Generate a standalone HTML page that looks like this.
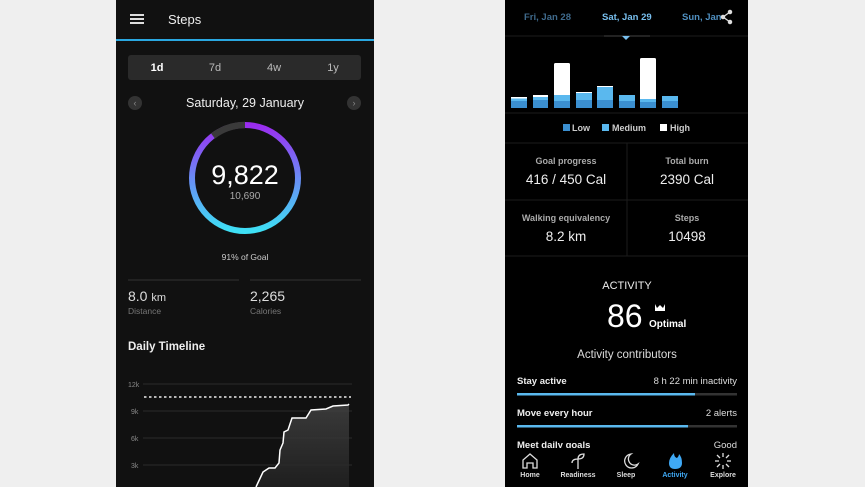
<!DOCTYPE html>
<html><head><style>
body{margin:0;width:865px;height:487px;background:#efefef;position:relative;overflow:hidden;font-family:"Liberation Sans",sans-serif}
.a{position:absolute;white-space:nowrap}
.lp{position:absolute;left:116px;top:0;width:258px;height:487px;background:#111;overflow:hidden}
.rp{position:absolute;left:505px;top:0;width:243px;height:487px;background:#000;overflow:hidden}
.c{transform:translateX(-50%)}
</style></head><body>
<div class="lp">
 <div class="a" style="left:14px;top:14px;width:14px;height:2px;background:#ddd;box-shadow:0 4px 0 #ddd,0 8px 0 #ddd"></div>
 <div class="a" style="left:52px;top:12px;color:#eee;font-size:13px">Steps</div>
 <div class="a" style="left:0;top:39px;width:258px;height:2px;background:#2aa7e0"></div>
 <div class="a" style="left:12px;top:55px;width:233px;height:25px;background:#2a2a2a;border-radius:3px"></div>
 <div class="a c" style="left:41px;top:62px;color:#fff;font-size:11px;font-weight:bold">1d</div>
 <div class="a c" style="left:99px;top:62px;color:#bbb;font-size:11px">7d</div>
 <div class="a c" style="left:158px;top:62px;color:#bbb;font-size:11px">4w</div>
 <div class="a c" style="left:217px;top:62px;color:#bbb;font-size:11px">1y</div>
 <div class="a" style="left:12px;top:96px;width:14px;height:14px;border-radius:50%;background:#333;color:#888;font-size:9px;text-align:center;line-height:14px">‹</div>
 <div class="a" style="left:231px;top:96px;width:14px;height:14px;border-radius:50%;background:#333;color:#888;font-size:9px;text-align:center;line-height:14px">›</div>
 <div class="a c" style="left:129px;top:96px;color:#eee;font-size:12.5px">Saturday, 29 January</div>
 <svg class="a" style="left:0;top:0" width="258" height="487">
  <defs><linearGradient id="g" x1="0" y1="0" x2="0" y2="1"><stop offset="0" stop-color="#9b2cf0"/><stop offset="0.5" stop-color="#6a8cf5"/><stop offset="1" stop-color="#3ee0f5"/></linearGradient>
  <linearGradient id="f" x1="0" y1="0" x2="0" y2="1"><stop offset="0" stop-color="#444"/><stop offset="1" stop-color="#222"/></linearGradient></defs>
  <circle cx="129" cy="178" r="53" fill="none" stroke="url(#g)" stroke-width="6"/>
  <path d="M129 125 A53 53 0 0 0 97 136" fill="none" stroke="#3a3a3a" stroke-width="6.5"/>
  <line x1="12" y1="280" x2="123" y2="280" stroke="#333"/>
  <line x1="134" y1="280" x2="245" y2="280" stroke="#333"/>
  <g stroke="#2a2a2a"><line x1="27" y1="384" x2="236" y2="384"/><line x1="27" y1="411" x2="236" y2="411"/><line x1="27" y1="438" x2="236" y2="438"/><line x1="27" y1="465" x2="236" y2="465"/></g>
  <line x1="28" y1="397" x2="235" y2="397" stroke="#eee" stroke-width="1.6" stroke-dasharray="2.5 2.5"/>
  <polygon fill="url(#f)" opacity="0.8" points="140,487 147,472 153,468 159,468 163,463 164,450 167,443 168,432 172,430 176,418 190,418 195,410 210,409 217,406 232,405 233,404 233,487"/>
  <polyline fill="none" stroke="#fff" stroke-width="1.5" points="140,487 147,472 153,468 159,468 163,463 164,450 167,443 168,432 172,430 176,418 190,418 195,410 210,409 217,406 232,405 233,404"/>
  <g fill="#888" font-size="7" font-family="Liberation Sans"><text x="12" y="387">12k</text><text x="15" y="414">9k</text><text x="15" y="441">6k</text><text x="15" y="468">3k</text></g>
 </svg>
 <div class="a c" style="left:129px;top:160px;color:#fff;font-size:27px">9,822</div>
 <div class="a c" style="left:129px;top:191px;color:#aaa;font-size:10px">10,690</div>
 <div class="a c" style="left:129px;top:252px;color:#ccc;font-size:8.5px">91% of Goal</div>
 <div class="a" style="left:12px;top:288px;color:#ddd;font-size:14px">8.0 <span style="font-size:11px">km</span></div>
 <div class="a" style="left:12px;top:306px;color:#777;font-size:8.5px">Distance</div>
 <div class="a" style="left:134px;top:288px;color:#ddd;font-size:14px">2,265</div>
 <div class="a" style="left:134px;top:306px;color:#777;font-size:8.5px">Calories</div>
 <div class="a" style="left:12px;top:341px;color:#eee;font-size:11.5px;font-weight:bold">Daily Timeline</div>
</div>

<div class="rp">
 <div class="a" style="left:19px;top:12px;color:#3f6a8c;font-size:9.5px;font-weight:bold">Fri, Jan 28</div>
 <div class="a" style="left:97px;top:12px;color:#78bfee;font-size:9.5px;font-weight:bold">Sat, Jan 29</div>
 <div class="a" style="left:177px;top:12px;color:#4f8fc0;font-size:9.5px;font-weight:bold">Sun, Jan</div>
 <svg class="a" style="left:0;top:0" width="243" height="487">
  <g stroke="#ddd" stroke-width="1.3" fill="#ddd"><line x1="218" y1="17" x2="225" y2="12"/><line x1="218" y1="17" x2="225" y2="22"/><circle cx="218" cy="17" r="1.6"/><circle cx="225" cy="12" r="1.6"/><circle cx="225" cy="22" r="1.6"/></g>
  <g stroke="#1c1c1c"><line x1="0" y1="36" x2="243" y2="36"/><line x1="0" y1="113" x2="243" y2="113"/><line x1="0" y1="143" x2="243" y2="143"/><line x1="0" y1="200" x2="243" y2="200"/><line x1="0" y1="256" x2="243" y2="256"/><line x1="122" y1="143" x2="122" y2="256"/></g>
  <line x1="99" y1="36" x2="145" y2="36" stroke="#444"/>
  <polygon points="117,36 125,36 121,40" fill="#78bfee"/>
  <g>
   <rect x="6" y="97" width="16" height="11" fill="#3b8fd0"/><rect x="6" y="97" width="16" height="4" fill="#5ab8ee"/><rect x="6" y="97" width="16" height="1.5" fill="#fff"/>
   <rect x="28" y="95" width="15" height="13" fill="#3b8fd0"/><rect x="28" y="95" width="15" height="5" fill="#5ab8ee"/><rect x="28" y="95" width="15" height="2" fill="#fff"/>
   <rect x="49" y="63" width="16" height="45" fill="#fff" rx="1.5"/><rect x="49" y="95" width="16" height="13" fill="#5ab8ee"/><rect x="49" y="101" width="16" height="7" fill="#3b8fd0"/>
   <rect x="71" y="92" width="16" height="16" fill="#5ab8ee"/><rect x="71" y="92" width="16" height="1" fill="#fff"/><rect x="71" y="100" width="16" height="8" fill="#3b8fd0"/>
   <rect x="92" y="86" width="16" height="22" fill="#5ab8ee"/><rect x="92" y="86" width="16" height="1" fill="#fff"/><rect x="92" y="100" width="16" height="8" fill="#3b8fd0"/>
   <rect x="114" y="95" width="16" height="13" fill="#5ab8ee"/><rect x="114" y="101" width="16" height="7" fill="#3b8fd0"/>
   <rect x="135" y="58" width="16" height="50" fill="#fff" rx="1.5"/><rect x="135" y="99" width="16" height="9" fill="#5ab8ee"/><rect x="135" y="102" width="16" height="6" fill="#3b8fd0"/>
   <rect x="157" y="96" width="16" height="12" fill="#5ab8ee"/><rect x="157" y="101" width="16" height="7" fill="#3b8fd0"/>
  </g>
  <rect x="58" y="124" width="7" height="7" fill="#3b8fd0"/><rect x="97" y="124" width="7" height="7" fill="#5ab8ee"/><rect x="155" y="124" width="7" height="7" fill="#fff"/>
  <rect x="12" y="393" width="220" height="2.5" fill="#333"/><rect x="12" y="393" width="178" height="2.5" fill="#5ab8ee"/>
  <rect x="12" y="425" width="220" height="2.5" fill="#333"/><rect x="12" y="425" width="171" height="2.5" fill="#5ab8ee"/>
  <path d="M150 304 l2 4 l3 -3 l3 3 l2 -4 v7 h-10z" fill="#fff"/>
 </svg>
 <div class="a" style="left:67px;top:123px;color:#ccc;font-size:9px;font-weight:bold">Low</div>
 <div class="a" style="left:107px;top:123px;color:#ccc;font-size:9px;font-weight:bold">Medium</div>
 <div class="a" style="left:165px;top:123px;color:#ccc;font-size:9px;font-weight:bold">High</div>
 <div class="a c" style="left:61px;top:156px;color:#aaa;font-size:9px;font-weight:bold">Goal progress</div>
 <div class="a c" style="left:61px;top:172px;color:#eee;font-size:13.5px">416 / 450 Cal</div>
 <div class="a c" style="left:182px;top:156px;color:#aaa;font-size:9px;font-weight:bold">Total burn</div>
 <div class="a c" style="left:182px;top:172px;color:#eee;font-size:13.5px">2390 Cal</div>
 <div class="a c" style="left:61px;top:213px;color:#aaa;font-size:9px;font-weight:bold">Walking equivalency</div>
 <div class="a c" style="left:61px;top:229px;color:#eee;font-size:13.5px">8.2 km</div>
 <div class="a c" style="left:182px;top:213px;color:#aaa;font-size:9px;font-weight:bold">Steps</div>
 <div class="a c" style="left:182px;top:229px;color:#eee;font-size:13.5px">10498</div>
 <div class="a c" style="left:122px;top:280px;color:#eee;font-size:11px">ACTIVITY</div>
 <div class="a" style="left:102px;top:298px;color:#fff;font-size:32px">86</div>
 <div class="a" style="left:144px;top:319px;color:#fff;font-size:10px;font-weight:bold">Optimal</div>
 <div class="a c" style="left:122px;top:349px;color:#ddd;font-size:11.5px">Activity contributors</div>
 <div class="a" style="left:12px;top:376px;color:#eee;font-size:9.5px;font-weight:bold">Stay active</div>
 <div class="a" style="right:11px;top:376px;color:#ddd;font-size:9.5px">8 h 22 min inactivity</div>
 <div class="a" style="left:12px;top:408px;color:#eee;font-size:9.5px;font-weight:bold">Move every hour</div>
 <div class="a" style="right:11px;top:408px;color:#ddd;font-size:9.5px">2 alerts</div>
 <div class="a" style="left:12px;top:440px;color:#eee;font-size:9.5px;font-weight:bold">Meet daily goals</div>
 <div class="a" style="right:11px;top:440px;color:#ddd;font-size:9.5px">Good</div>
 <div class="a" style="left:0;top:448px;width:243px;height:39px;background:#000"></div>
 <svg class="a" style="left:0;top:448px" width="243" height="25">
  <path d="M18 20 v-8 l7 -6 l7 6 v8 h-4 v-5 h-6 v5z" fill="none" stroke="#ddd" stroke-width="1.3"/>
  <path d="M73 21 v-10 q0 -5 6 -5 q0 5 -6 5 M73 11 q-6 0 -6 4" fill="none" stroke="#ddd" stroke-width="1.3"/>
  <path d="M126 6 a7 7 0 1 0 7 10 a6 6 0 0 1 -7 -10z" fill="none" stroke="#ddd" stroke-width="1.3"/>
  <path d="M170 21 q-6 0 -6 -6 q0 -5 5 -10 q0 4 3 5 q2 -2 2 -4 q3 3 3 9 q0 6 -7 6z" fill="#3fa9f5"/>
  <g stroke="#ddd" stroke-width="1.3"><line x1="218" y1="5" x2="218" y2="9"/><line x1="218" y1="17" x2="218" y2="21"/><line x1="210" y1="13" x2="214" y2="13"/><line x1="222" y1="13" x2="226" y2="13"/><line x1="212" y1="7" x2="215" y2="10"/><line x1="221" y1="16" x2="224" y2="19"/><line x1="224" y1="7" x2="221" y2="10"/><line x1="215" y1="16" x2="212" y2="19"/></g>
 </svg>
 <div class="a c" style="left:25px;top:472px;color:#ddd;font-size:7px;font-weight:bold">Home</div>
 <div class="a c" style="left:73px;top:472px;color:#ddd;font-size:7px;font-weight:bold">Readiness</div>
 <div class="a c" style="left:121px;top:472px;color:#ddd;font-size:7px;font-weight:bold">Sleep</div>
 <div class="a c" style="left:170px;top:472px;color:#3fa9f5;font-size:7px;font-weight:bold">Activity</div>
 <div class="a c" style="left:218px;top:472px;color:#ddd;font-size:7px;font-weight:bold">Explore</div>
</div>
</body></html>
